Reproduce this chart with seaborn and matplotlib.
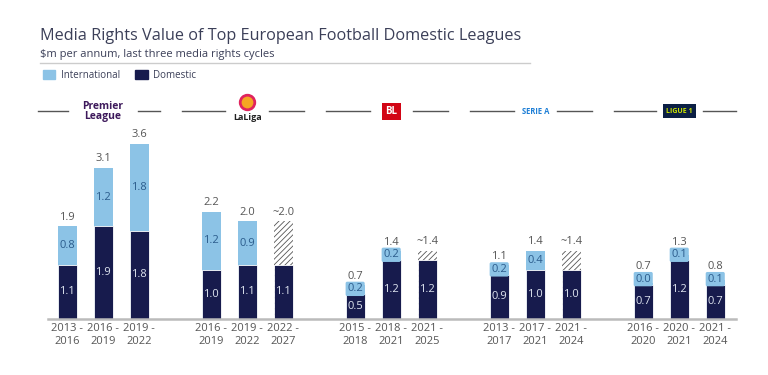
import pandas as pd
import seaborn as sns
import matplotlib.pyplot as plt
from matplotlib.patches import Patch

# 資料
leagues = ['Premier League', 'LaLiga', 'Bundesliga', 'Serie A', 'Ligue 1']
cycles = ['2013 -\n2016', '2016 -\n2019', '2019 -\n2022',
          '2016 -\n2019', '2019 -\n2022', '2022 -\n2027',
          '2015 -\n2018', '2018 -\n2021', '2021 -\n2025',
          '2013 -\n2017', '2017 -\n2021', '2021 -\n2024',
          '2016 -\n2020', '2020 -\n2021', '2021 -\n2024']
domestic = [1.1, 1.9, 1.8, 1.0, 1.1, 1.1, 0.5, 1.2, 1.2, 0.9, 1.0, 1.0, 0.7, 1.2, 0.7]
international = [0.8, 1.2, 1.8, 1.2, 0.9, 0.9, 0.2, 0.2, 0.2, 0.2, 0.4, 0.4, 0.03, 0.1, 0.1]
estimated = [False, False, False, False, False, True, False, False, True,
             False, False, True, False, False, False]

LIGHT = '#8cc3e6'
DARK = '#171b4d'
TXT = '#3b3f58'

plt.rcParams['font.family'] = ['Open Sans', 'DejaVu Sans']
plt.rcParams['hatch.linewidth'] = 0.6

df = pd.DataFrame({'cycle': cycles, 'domestic': domestic,
                   'international': international, 'estimated': estimated})
df['pos'] = [i + i // 3 for i in range(len(df))]
df['total'] = df['domestic'] + df['international']

fig = plt.figure(figsize=(7.68, 3.75), dpi=100)
ax = fig.add_axes([0.0625, 0.150, 0.896, 0.584])

# 總額(國際部分)
sns.barplot(data=df, x='pos', y='total', native_scale=True, width=0.53,
            color=LIGHT, saturation=1, ax=ax, linewidth=0)
for p, est in zip(ax.patches, df['estimated']):
    if est:
        p.set_facecolor('white')
        p.set_hatch('//////')
        p.set_edgecolor('#555555')
        p.set_linewidth(0)

# 國內部分
sns.barplot(data=df, x='pos', y='domestic', native_scale=True, width=0.53,
            color=DARK, saturation=1, ax=ax, edgecolor='white', linewidth=0.6)

# 標籤
for _, r in df.iterrows():
    x = r['pos']
    ax.text(x, r['domestic'] / 2, f"{r['domestic']:.1f}", ha='center', va='center',
            color='#dfe5f0', fontsize=8)
    if r['estimated']:
        ax.annotate(f"~{r['total']:.1f}", (x, r['total']), xytext=(0, 6.5),
                    textcoords='offset points', ha='center', va='center',
                    color='#555555', fontsize=8)
        continue
    if r['international'] < 0.3:
        ax.annotate(f"{r['international']:.1f}", (x, r['domestic']), xytext=(0, 4),
                    textcoords='offset points', ha='center', va='center',
                    color='#2b5c8c', fontsize=8,
                    bbox=dict(boxstyle='round,pad=0.15', fc=LIGHT, ec='none'))
        ax.annotate(f"{r['total']:.1f}", (x, r['domestic']), xytext=(0, 13),
                    textcoords='offset points', ha='center', va='center',
                    color='#555555', fontsize=8)
    else:
        ax.text(x, r['domestic'] + r['international'] / 2, f"{r['international']:.1f}",
                ha='center', va='center', color='#2b5c8c', fontsize=8)
        ax.annotate(f"{r['total']:.1f}", (x, r['total']), xytext=(0, 6.5),
                    textcoords='offset points', ha='center', va='center',
                    color='#555555', fontsize=8)

# 聯賽標誌列
gaps = [0.97, 0.62, 0.6, 0.6, 0.65]
logo_y = 4.26
for i, (name, g) in enumerate(zip(leagues, gaps)):
    c = i * 4 + 1
    ax.plot([c - 1.8, c - g], [logo_y, logo_y], color='#555555', lw=1, clip_on=False)
    ax.plot([c + g, c + 1.57], [logo_y, logo_y], color='#555555', lw=1, clip_on=False)
ax.text(1, logo_y, 'Premier\nLeague', ha='center', va='center', color='#3d195b',
        fontsize=7.5, fontweight='bold', linespacing=0.85)
ax.text(5, logo_y - 0.12, 'LaLiga', ha='center', va='center', color='#222222',
        fontsize=6.5, fontweight='bold')
ax.scatter([5], [logo_y + 0.2], s=110, color='#f5a623', edgecolor='#e0245e',
           linewidth=2, zorder=3, clip_on=False)
ax.text(9, logo_y, 'BL', ha='center', va='center', color='white', fontsize=7,
        fontweight='bold', bbox=dict(boxstyle='square,pad=0.35', fc='#d20515', ec='none'))
ax.text(13, logo_y, 'SERIE A', ha='center', va='center', color='#1e7fd6',
        fontsize=5.5, fontweight='bold')
ax.text(17, logo_y, 'LIGUE 1', ha='center', va='center', color='#cde600',
        fontsize=5, fontweight='bold',
        bbox=dict(boxstyle='square,pad=0.5', fc='#0b1f44', ec='none'))

ax.set_xlim(-0.53, 18.58)
ax.set_ylim(0, 4.5)
ax.set_xticks(df['pos'])
ax.set_xticklabels(df['cycle'], fontsize=8, color='#555555', linespacing=1.3)
ax.tick_params(axis='x', length=0, pad=3)
ax.set_yticks([])
ax.set_xlabel('')
ax.set_ylabel('')
for s in ['top', 'right', 'left']:
    ax.spines[s].set_visible(False)
ax.spines['bottom'].set_color('#bbbbbb')
ax.spines['bottom'].set_linewidth(1.8)

# 標題
fig.text(40 / 768, 1 - 36 / 375, 'Media Rights Value of Top European Football Domestic Leagues',
         fontsize=11.7, color=TXT, va='center')
fig.text(40 / 768, 1 - 54 / 375, '$m per annum, last three media rights cycles',
         fontsize=8, color=TXT, va='center')
fig.add_artist(plt.Line2D([40 / 768, 530 / 768], [1 - 63 / 375, 1 - 63 / 375],
                          color='#cccccc', lw=1))
handles = [Patch(color=LIGHT, label='International'), Patch(color=DARK, label='Domestic')]
fig.legend(handles=handles, loc='center left', bbox_to_anchor=(34 / 768, 1 - 75 / 375),
           ncol=2, frameon=False, fontsize=7, handlelength=1.3, handleheight=1.1,
           columnspacing=1.5, handletextpad=0.6, labelcolor=TXT)

fig.savefig('out.png', dpi=100, facecolor='white')
